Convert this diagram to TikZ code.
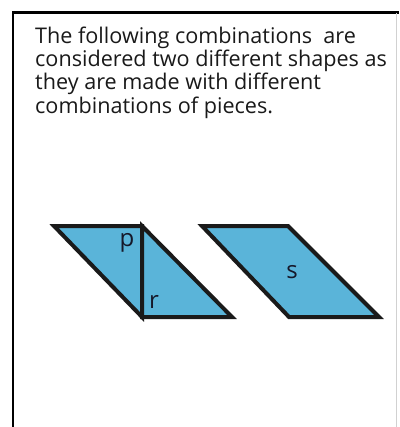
\documentclass[tikz,border=0pt]{standalone}
\usepackage{fontspec}
\setmainfont{Open Sans}
\definecolor{piece}{HTML}{5AB4D9}
\definecolor{edge}{HTML}{1A1A1A}
\definecolor{lbl}{HTML}{15182A}
\begin{document}
\begin{tikzpicture}[x=1pt,y=-1pt,
  txt/.style={anchor=base west,inner sep=0pt,font=\fontsize{21.6}{24}\selectfont,text=black!90},
  piecestyle/.style={fill=piece,draw=edge,line width=4pt,line join=miter},
  lab/.style={inner sep=0pt,font=\fontsize{24}{26}\selectfont,text=lbl}]
\useasboundingbox (0,0) rectangle (399,427);
% frame
\draw[line width=2.2pt,black] (13,427) -- (13,12.5) -- (399,12.5);
\draw[line width=0.8pt,black!18] (396,13) -- (396,427);
% text
\node[txt] (l1) at (35,43.5) {The following combinations\ \ are};
\node[txt] (l2) at (35,66.8) {considered two different shapes as};
\node[txt] (l3) at (35,90) {they are made with different};
\node[txt] (l4) at (35,113.2) {combinations of pieces.};
% left shape: two triangles
\draw[piecestyle] (54,226) -- (142,226) -- (142,317) -- cycle;
\draw[piecestyle] (142,226) -- (232,317) -- (142,317) -- cycle;
% right shape
\draw[piecestyle] (202,226) -- (288,226) -- (379,317) -- (289,317) -- cycle;
% labels
\node[lab] (p) at (127,243) {p};
\node[lab] (r) at (154,302) {r};
\node[lab] (s) at (292,272) {s};
\end{tikzpicture}
\end{document}
